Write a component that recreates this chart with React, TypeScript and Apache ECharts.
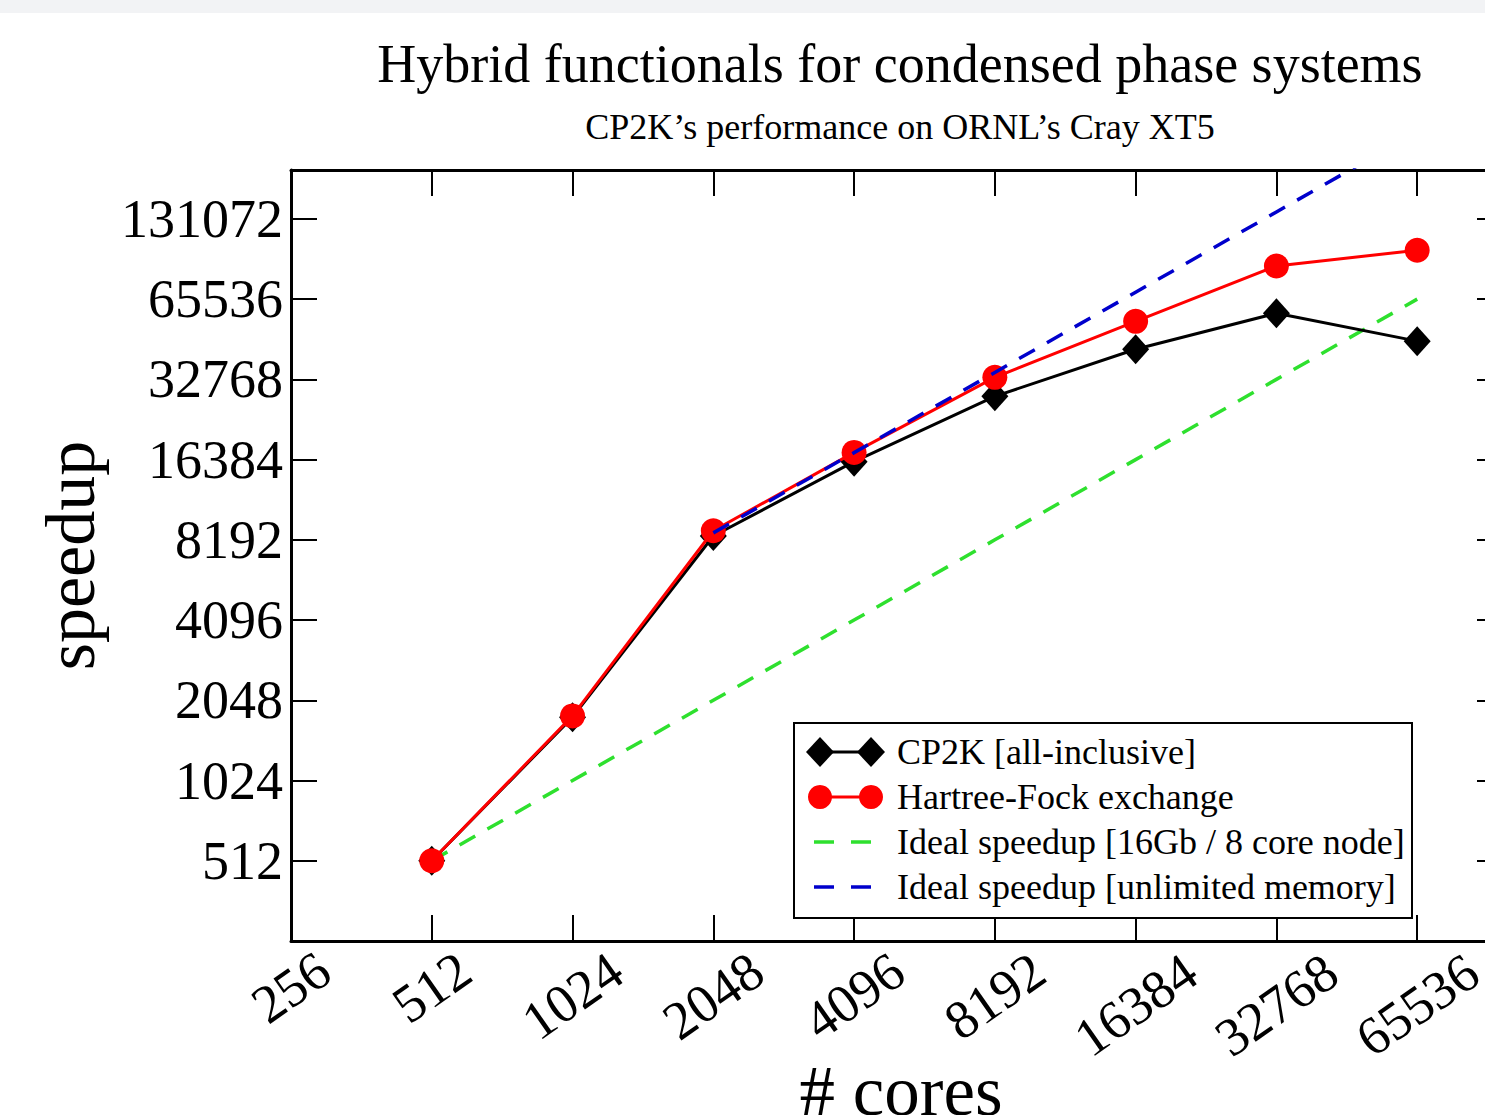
import React, { useEffect, useRef } from "react";
import * as echarts from "echarts";

// ---- data ----
const cores = [512, 1024, 2048, 4096, 8192, 16384, 32768, 65536];
const cp2kSpeedup = [512, 1770, 8470, 16100, 28300, 42500, 58000, 45600];
const hfSpeedup = [512, 1790, 8860, 17440, 33350, 54100, 87300, 100000];
const idealNodeSpeedup = [512, 1024, 2048, 4096, 8192, 16384, 32768, 65536];
const idealUnlimitedCores = [2048, 4096, 8192, 16384, 32768, 65536];
const idealUnlimitedSpeedup = [8700, 17400, 34800, 69600, 139200, 278400];
const xTickLabels = ["256", "512", "1024", "2048", "4096", "8192", "16384", "32768", "65536"];
const yTickLabels = ["512", "1024", "2048", "4096", "8192", "16384", "32768", "65536", "131072"];
const seriesNames = [
  "CP2K [all-inclusive]",
  "Hartree-Fock exchange",
  "Ideal speedup [16Gb / 8 core node]",
  "Ideal speedup [unlimited memory]",
];

const FONT = "'Liberation Serif', 'Times New Roman', serif";

function pairs(xs: number[], ys: number[]) {
  return xs.map((x, i) => [x, ys[i]]);
}

function labelFor(v: number, list: string[]) {
  const s = String(Math.round(v));
  const l = Math.log2(v);
  if (Math.abs(l - Math.round(l)) > 1e-6) return "";
  return list.indexOf(s) >= 0 ? s : "";
}

export default function App() {
  const ref = useRef<HTMLDivElement>(null);
  useEffect(() => {
    if (!ref.current) return;
    const chart = echarts.init(ref.current, undefined, { renderer: "svg" });

    const tickStyle = { color: "#000", width: 2 };
    const axisLineStyle = { color: "#000", width: 3 };

    const legendTop = 723;
    const rowY = [752, 797, 842, 887];
    const iconL = 820;
    const iconR = 871;
    const textX = 897;

    const legendGraphics: any[] = [
      {
        type: "rect",
        shape: { x: 794, y: legendTop, width: 618, height: 195 },
        style: { fill: "#fff", stroke: "#000", lineWidth: 2 },
        z: 100,
      },
      // CP2K
      { type: "line", shape: { x1: iconL, y1: rowY[0], x2: iconR, y2: rowY[0] }, style: { stroke: "#000", lineWidth: 3 }, z: 101 },
      { type: "polygon", shape: { points: [[iconL - 14, rowY[0]], [iconL, rowY[0] - 15], [iconL + 14, rowY[0]], [iconL, rowY[0] + 15]] }, style: { fill: "#000" }, z: 102 },
      { type: "polygon", shape: { points: [[iconR - 14, rowY[0]], [iconR, rowY[0] - 15], [iconR + 14, rowY[0]], [iconR, rowY[0] + 15]] }, style: { fill: "#000" }, z: 102 },
      // HF
      { type: "line", shape: { x1: iconL, y1: rowY[1], x2: iconR, y2: rowY[1] }, style: { stroke: "#ff0000", lineWidth: 3 }, z: 101 },
      { type: "circle", shape: { cx: iconL, cy: rowY[1], r: 12 }, style: { fill: "#ff0000" }, z: 102 },
      { type: "circle", shape: { cx: iconR, cy: rowY[1], r: 12 }, style: { fill: "#ff0000" }, z: 102 },
      // green dashed
      { type: "line", shape: { x1: 814, y1: rowY[2], x2: 871, y2: rowY[2] }, style: { stroke: "#2ee02e", lineWidth: 3.5, lineDash: [20, 17] }, z: 101 },
      // blue dashed
      { type: "line", shape: { x1: 814, y1: rowY[3], x2: 871, y2: rowY[3] }, style: { stroke: "#0000cc", lineWidth: 3.5, lineDash: [20, 17] }, z: 101 },
    ];
    seriesNames.forEach((n, i) => {
      legendGraphics.push({
        type: "text",
        x: textX,
        y: rowY[i],
        style: { text: n, fill: "#000", font: `36px ${FONT}`, verticalAlign: "middle" },
        z: 102,
      });
    });

    const xLabelRich: any = {
      s3: { fontSize: 54, fontFamily: FONT, color: "#000", padding: [0, 0, 14, 10] },
      s4: { fontSize: 54, fontFamily: FONT, color: "#000", padding: [0, 0, 0, 0] },
      s5: { fontSize: 54, fontFamily: FONT, color: "#000", padding: [15, 10, 0, 0] },
    };

    const xBase: any = {
      type: "log",
      logBase: 2,
      min: 256,
      max: 100000,
      splitLine: { show: false },
      axisLine: { show: true, lineStyle: axisLineStyle },
      axisTick: { show: true, inside: true, length: 26, lineStyle: tickStyle },
    };
    const yBase: any = {
      type: "log",
      logBase: 2,
      min: 256,
      max: 200000,
      splitLine: { show: false },
      axisLine: { show: true, lineStyle: axisLineStyle },
      axisTick: { show: true, inside: true, length: 26, lineStyle: tickStyle },
    };

    const option: any = {
      animation: false,
      backgroundColor: "#fff",
      title: [
        {
          text: "Hybrid functionals for condensed phase systems",
          left: 895,
          top: 32,
          textAlign: "center",
          textStyle: { fontFamily: FONT, fontSize: 54, fontWeight: "normal", color: "#000" },
        },
        {
          text: "CP2K\u2019s performance on ORNL\u2019s Cray XT5",
          left: 895,
          top: 104,
          textAlign: "center",
          textStyle: { fontFamily: FONT, fontSize: 36, fontWeight: "normal", color: "#000" },
        },
      ],
      grid: { left: 291, right: -18, top: 170, bottom: 174, containLabel: false, outerBoundsMode: "none" },
      xAxis: [
        {
          ...xBase,
          position: "bottom",
          name: "# cores",
          nameLocation: "middle",
          nameGap: 114,
          nameMoveOverlap: false,
          nameTextStyle: { fontFamily: FONT, fontSize: 71, color: "#000", padding: [0, 0, 0, 8] },
          axisLabel: {
            show: true,
            rotate: 35,
            margin: 55,
            align: "center",
            verticalAlign: "middle",
            showMaxLabel: false,
            formatter: (v: number) => {
              const s = labelFor(v, xTickLabels);
              if (!s) return "";
              const k = Math.min(5, Math.max(3, s.length));
              return `{s${k}|${s}}`;
            },
            rich: xLabelRich,
          },
        },
        {
          ...xBase,
          position: "top",
          axisLabel: { show: false },
        },
      ],
      yAxis: [
        {
          ...yBase,
          position: "left",
          name: "speedup",
          nameLocation: "middle",
          nameGap: 186,
          nameMoveOverlap: false,
          nameTextStyle: { fontFamily: FONT, fontSize: 70, color: "#000" },
          axisLabel: {
            show: true,
            margin: 8,
            showMaxLabel: false,
            fontFamily: FONT,
            fontSize: 54,
            color: "#000",
            formatter: (v: number) => labelFor(v, yTickLabels),
          },
        },
        {
          ...yBase,
          position: "right",
          axisLabel: { show: false },
        },
      ],
      series: [
        {
          name: seriesNames[2],
          type: "line",
          data: pairs(cores, idealNodeSpeedup),
          symbol: "none",
          lineStyle: { color: "#2ee02e", width: 3.5, type: [18, 14] },
          itemStyle: { color: "#2ee02e" },
          z: 2,
        },
        {
          name: seriesNames[0],
          type: "line",
          data: pairs(cores, cp2kSpeedup),
          symbol: "diamond",
          symbolSize: [27, 30],
          lineStyle: { color: "#000", width: 3 },
          itemStyle: { color: "#000" },
          z: 3,
        },
        {
          name: seriesNames[1],
          type: "line",
          data: pairs(cores, hfSpeedup),
          symbol: "circle",
          symbolSize: 25,
          lineStyle: { color: "#ff0000", width: 3 },
          itemStyle: { color: "#ff0000" },
          z: 4,
        },
        {
          name: seriesNames[3],
          type: "line",
          data: pairs(idealUnlimitedCores, idealUnlimitedSpeedup),
          symbol: "none",
          clip: true,
          lineStyle: { color: "#0000cc", width: 3.5, type: [18, 14] },
          itemStyle: { color: "#0000cc" },
          z: 5,
        },
      ],
      graphic: [
        {
          type: "rect",
          shape: { x: 0, y: 0, width: 1485, height: 13 },
          style: { fill: "#f2f3f5" },
          z: 0,
        },
        ...legendGraphics,
      ],
    };
    chart.setOption(option);
    return () => chart.dispose();
  }, []);

  return (
    <div
      ref={ref}
      style={{ position: "absolute", left: 0, top: 0, width: 1485, height: 1115, background: "#fff" }}
    />
  );
}
